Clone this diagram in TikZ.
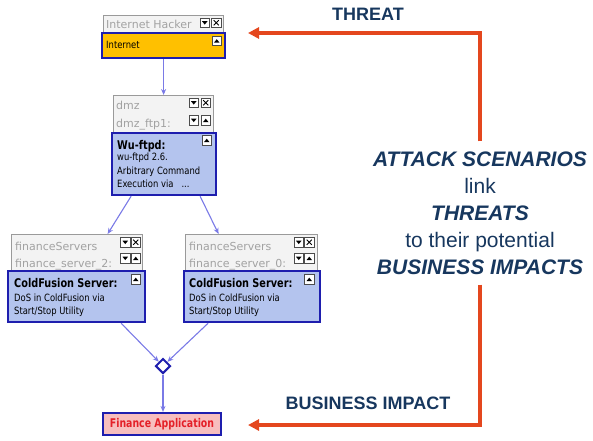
\documentclass[tikz,border=0pt]{standalone}
\usepackage{fontspec}
\newfontfamily\boxfont{DejaVu Sans}
\newfontfamily\boxnarrow[FakeStretch=0.84]{DejaVu Sans}
\newfontfamily\boxhead[FakeStretch=0.81]{DejaVu Sans}
\newfontfamily\boxapp[FakeStretch=0.78]{DejaVu Sans}
\newfontfamily\labfont{Liberation Sans}
\usetikzlibrary{arrows.meta,shapes.geometric}
\definecolor{graybd}{HTML}{9A9A9A}
\definecolor{grayfill}{HTML}{F3F3F3}
\definecolor{graytxt}{HTML}{A2A2A2}
\definecolor{bluefill}{HTML}{B4C4EE}
\definecolor{darkbd}{HTML}{1E1EAE}
\definecolor{ybox}{HTML}{FFC000}
\definecolor{pinkbox}{HTML}{F7BEBE}
\definecolor{redtxt}{HTML}{E42028}
\definecolor{edgeblue}{HTML}{7A7AE6}
\definecolor{redarrow}{HTML}{E4471E}
\definecolor{navy}{HTML}{17375E}
\tikzset{
  graybox/.style={draw=graybd, fill=grayfill, line width=1.2pt, inner sep=0pt, anchor=north west},
  bluebox/.style={draw=darkbd, fill=bluefill, line width=2.2pt, inner sep=0pt, anchor=north west},
  gtext/.style={text=graytxt, font=\boxfont\fontsize{11}{13}\selectfont, inner sep=0pt, anchor=base west},
  htext/.style={text=black, font=\boxhead\bfseries\fontsize{12}{14}\selectfont, inner sep=0pt, anchor=base west},
  btext/.style={text=black, font=\boxnarrow\fontsize{10}{12}\selectfont, inner sep=0pt, anchor=base west},
  btn/.style={draw=black!70, fill=white, line width=0.7pt},
  bedge/.style={draw=edgeblue, line width=1.1pt, -{Stealth[length=6pt,width=5pt]}},
  redarr/.style={draw=redarrow, line width=3.6pt, line join=miter, -{Triangle[length=11pt,width=11pt]}},
  biglab/.style={text=navy, font=\labfont\bfseries\fontsize{18}{20}\selectfont, inner sep=0pt}
}
\newcommand\btnDn[2]{\draw[btn] (#1,#2) rectangle ++(9.5,9.5);
  \fill (#1+2,#2+3.2) -- (#1+7.5,#2+3.2) -- (#1+4.75,#2+6.6) -- cycle;}
\newcommand\btnUp[2]{\draw[btn] (#1,#2) rectangle ++(9.5,9.5);
  \fill (#1+2,#2+6.6) -- (#1+7.5,#2+6.6) -- (#1+4.75,#2+3.2) -- cycle;}
\newcommand\btnX[2]{\draw[btn] (#1,#2) rectangle ++(9.5,9.5);
  \draw[line width=1pt] (#1+2.2,#2+2.2) -- (#1+7.3,#2+7.3) (#1+7.3,#2+2.2) -- (#1+2.2,#2+7.3);}
\begin{document}
\begin{tikzpicture}[x=1pt,y=-1pt]
\useasboundingbox (0,0) rectangle (593,440);

% ---- top group
\node[graybox, minimum width=120pt, minimum height=17pt] (hackg) at (103,15) {};
\node[gtext] (hackt) at (106,28) {Internet Hacker};
\btnDn{200}{18}\btnX{211.5}{18}
\node[bluebox, fill=ybox, minimum width=123pt, minimum height=25pt] (inet) at (101,32) {};
\node[btext] (inett) at (106,48.5) {Internet};
\btnUp{212}{36}

% ---- dmz group
\node[graybox, minimum width=100pt, minimum height=37pt] (dmzg) at (113,95) {};
\node[gtext] (dmzt1) at (116,109) {dmz};
\node[gtext] (dmzt2) at (116,127.5) {dmz\_ftp1:};
\btnDn{189}{98}\btnX{201}{98}
\btnDn{189}{115.5}\btnUp{201}{115.5}
\node[bluebox, minimum width=104pt, minimum height=62pt] (wu) at (111,132) {};
\node[htext] (wut1) at (117,149.5) {Wu-ftpd:};
\node[btext] (wut2) at (117,160) {wu-ftpd 2.6.};
\node[btext] (wut3) at (117,174.5) {Arbitrary Command};
\node[btext] (wut4) at (117,187.5) {Execution via\ \ \ ...};
\btnUp{202}{135.5}

% ---- left finance group
\node[graybox, minimum width=131pt, minimum height=36pt] (fin1g) at (11,234) {};
\node[gtext] (f1t1) at (15,250) {financeServers};
\node[gtext] (f1t2) at (15,267.5) {finance\_server\_2:};
\btnDn{120.5}{237.5}\btnX{131}{237.5}
\btnDn{120.5}{253.5}\btnUp{131}{253.5}
\node[bluebox, minimum width=137pt, minimum height=51pt] (fin1b) at (7,270) {};
\node[htext] (f1t3) at (14,287.5) {ColdFusion Server:};
\node[btext] (f1t4) at (14,301.5) {DoS in ColdFusion via};
\node[btext] (f1t5) at (14,314.5) {Start/Stop Utility};
\btnUp{131}{274.5}

% ---- right finance group
\node[graybox, minimum width=132pt, minimum height=36pt] (fin2g) at (185,234) {};
\node[gtext] (f2t1) at (189,250) {financeServers};
\node[gtext] (f2t2) at (189,267.5) {finance\_server\_0:};
\btnDn{294}{237.5}\btnX{304.5}{237.5}
\btnDn{294}{253.5}\btnUp{304.5}{253.5}
\node[bluebox, minimum width=136pt, minimum height=51pt] (fin2b) at (183,270) {};
\node[htext] (f2t3) at (189,287.5) {ColdFusion Server:};
\node[btext] (f2t4) at (189,301.5) {DoS in ColdFusion via};
\node[btext] (f2t5) at (189,314.5) {Start/Stop Utility};
\btnUp{304.5}{274.5}

% ---- diamond and finance application
\node[diamond, draw=darkbd, fill=white, line width=2pt, minimum size=15pt, inner sep=0pt] (dia) at (163,366) {};
\node[draw=darkbd, fill=pinkbox, line width=2.2pt, minimum width=118pt, minimum height=22pt, inner sep=0pt,
      text=redtxt, font=\boxapp\bfseries\fontsize{12}{14}\selectfont] (fin) at (162,424) {Finance Application};

% ---- blue connectors
\draw[bedge] (inet.south) -- (inet.south |- dmzg.north);
\draw[bedge] ([xshift=-33pt]wu.south) -- ([xshift=30.5pt]fin1g.north);
\draw[bedge] ([xshift=36pt]wu.south) -- ([xshift=-33pt]fin2g.north);
\draw[bedge] ([xshift=44.5pt]fin1b.south) -- (dia);
\draw[bedge] ([xshift=-44pt]fin2b.south) -- (dia);
\draw[bedge] (dia.south) -- (dia.south |- fin.north);

% ---- right side text and red arrows
\node[text=navy, align=center, inner xsep=2pt, inner ysep=10pt, font=\labfont\fontsize{21}{27}\selectfont] (scen) at (480,213)
  {\textbf{\textit{ATTACK SCENARIOS}}\\link\\\textbf{\textit{THREATS}}\\to their potential\\\textbf{\textit{BUSINESS IMPACTS}}};
\coordinate (thr) at (248,33);
\coordinate (imp) at (248,425);
\draw[redarr] (scen.north) |- (thr);
\draw[redarr] (scen.south) |- (imp);
\node[biglab] (threatlbl) at (368,14) {THREAT};
\node[biglab] (implbl) at (368,403) {BUSINESS IMPACT};
\end{tikzpicture}
\end{document}
